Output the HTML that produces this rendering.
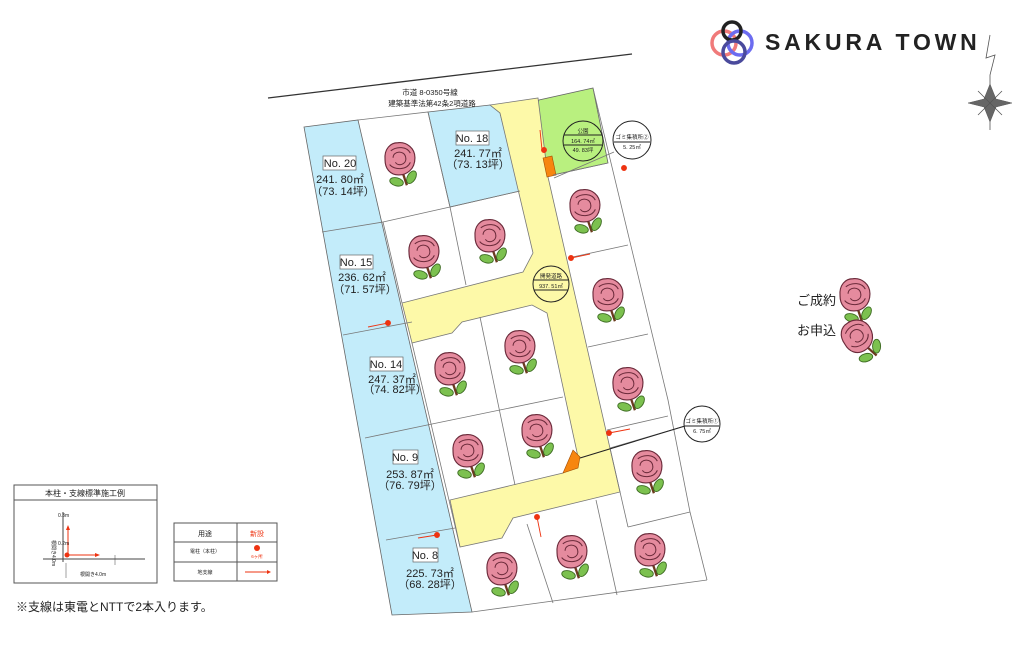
<!DOCTYPE html>
<html><head><meta charset="utf-8"><style>
html,body{margin:0;padding:0;background:#fff;}
svg{display:block;font-family:"Liberation Sans","Noto Sans CJK JP",sans-serif;}
</style></head><body>
<svg width="1024" height="650" viewBox="0 0 1024 650" xmlns="http://www.w3.org/2000/svg">
<defs>
<g id="r0">
 <path d="M2 10 L6 22" stroke="#6b3a1e" stroke-width="2" fill="none"/>
 <ellipse cx="-3" cy="19" rx="6" ry="3.5" fill="#7cc14f" stroke="#3d6b22" stroke-width="0.8" transform="rotate(15 -3 19)"/>
 <ellipse cx="10" cy="15" rx="3.5" ry="6" fill="#7cc14f" stroke="#3d6b22" stroke-width="0.8" transform="rotate(30 10 15)"/>
 <path d="M-13 0 C-14 -10 -8 -15 -2 -15 C6 -16 13 -10 13 -2 C13 8 6 13 -1 13 C-9 13 -13 7 -13 0Z" fill="#e58b9e" stroke="#6b2a3a" stroke-width="1"/>
 <path d="M-6 -2 C-6 -8 4 -9 5 -2 C6 4 -2 6 -4 2 M-9 4 C-5 9 6 9 9 2 M-8 -8 C-3 -12 6 -12 9 -6" stroke="#6b2a3a" stroke-width="0.9" fill="none"/>
</g>
<g id="rose"><use href="#r0" transform="scale(1.15)"/></g>
</defs>

<line x1="268" y1="98" x2="632" y2="54" stroke="#333" stroke-width="1.3"/>
<text x="430" y="95" font-size="7.5" text-anchor="middle" fill="#222">市道 8-0350号線</text>
<text x="432" y="106" font-size="7.5" text-anchor="middle" fill="#222">建築基準法第42条2項道路</text>

<polygon points="304,127 358,120 472,612 392,615" fill="#c3ecfa" stroke="#666" stroke-width="0.8"/>
<polygon points="428,112 490,105 500,113 520,191 450,207" fill="#c3ecfa" stroke="#666" stroke-width="0.8"/>

<polygon points="533,112 539,100 593,88 608,163 553,175 543,158" fill="#b9f07f" stroke="#666" stroke-width="0.8"/>

<polygon points="490,105 538,98 548,177 620,492 513,518 502,538 460,547 450,500 563,473 578,457 547,313 532,305 462,322 452,333 412,343 402,303 523,272 533,253 500,113" fill="#fdf9a8" stroke="#777" stroke-width="0.8"/>

<polygon points="543,158 552,156 556,175 547,177" fill="#f7860f" stroke="#a04b00" stroke-width="0.6"/>
<polygon points="563,473 573,450 580,457 578,468" fill="#f7860f" stroke="#a04b00" stroke-width="0.6"/>

<g stroke="#777" stroke-width="0.8" fill="none">
 <polyline points="358,120 428,112 450,207"/>
 <line x1="383" y1="222" x2="402" y2="303"/>
 <line x1="322" y1="232" x2="383" y2="222"/>
 <line x1="383" y1="222" x2="450" y2="207"/>
 <line x1="450" y1="207" x2="520" y2="191"/>
 <line x1="450" y1="207" x2="466" y2="285"/>
 <line x1="343" y1="335" x2="412" y2="322"/>
 <line x1="365" y1="438" x2="432" y2="424"/>
 <line x1="386" y1="540" x2="455" y2="528"/>
 <line x1="412" y1="343" x2="460" y2="547"/>
 <line x1="432" y1="424" x2="563" y2="397"/>
 <line x1="480" y1="317" x2="515" y2="485"/>
 <polyline points="593,88 668,400 690,512 707,580"/>
 <line x1="553" y1="175" x2="608" y2="163"/>
 <line x1="568" y1="258" x2="628" y2="245"/>
 <line x1="588" y1="347" x2="648" y2="334"/>
 <line x1="607" y1="430" x2="668" y2="416"/>
 <line x1="610" y1="448" x2="628" y2="527"/>
 <line x1="628" y1="527" x2="690" y2="512"/>
 <line x1="472" y1="612" x2="707" y2="580"/>
 <line x1="527" y1="524" x2="553" y2="603"/>
 <line x1="596" y1="500" x2="617" y2="595"/>
 <line x1="610" y1="448" x2="685" y2="426"/>
 <line x1="554" y1="178" x2="614" y2="152"/>
</g>

<use href="#rose" transform="translate(400,160)"/>
<use href="#rose" transform="translate(424,253)"/>
<use href="#rose" transform="translate(490,237)"/>
<use href="#rose" transform="translate(585,207)"/>
<use href="#rose" transform="translate(608,296)"/>
<use href="#rose" transform="translate(450,370)"/>
<use href="#rose" transform="translate(520,348)"/>
<use href="#rose" transform="translate(628,385)"/>
<use href="#rose" transform="translate(468,452)"/>
<use href="#rose" transform="translate(537,432)"/>
<use href="#rose" transform="translate(647,468)"/>
<use href="#rose" transform="translate(502,570)"/>
<use href="#rose" transform="translate(572,553)"/>
<use href="#rose" transform="translate(650,551)"/>
<use href="#rose" transform="translate(855,296)"/>
<use href="#rose" transform="translate(858,337) rotate(-30)"/>

<g font-size="11" fill="#222" text-anchor="middle">
 <rect x="323" y="156" width="33" height="14" fill="#fff" stroke="#666" stroke-width="0.7"/>
 <text x="340" y="167">No. 20</text>
 <text x="340" y="183">241. 80㎡</text>
 <text x="343" y="195">（73. 14坪）</text>
 <rect x="456" y="131" width="33" height="14" fill="#fff" stroke="#666" stroke-width="0.7"/>
 <text x="472" y="142">No. 18</text>
 <text x="478" y="157">241. 77㎡</text>
 <text x="478" y="168">（73. 13坪）</text>
 <rect x="340" y="255" width="33" height="14" fill="#fff" stroke="#666" stroke-width="0.7"/>
 <text x="356" y="266">No. 15</text>
 <text x="362" y="281">236. 62㎡</text>
 <text x="365" y="293">（71. 57坪）</text>
 <rect x="370" y="357" width="33" height="14" fill="#fff" stroke="#666" stroke-width="0.7"/>
 <text x="386" y="368">No. 14</text>
 <text x="392" y="383">247. 37㎡</text>
 <text x="395" y="393">（74. 82坪）</text>
 <rect x="393" y="450" width="25" height="14" fill="#fff" stroke="#666" stroke-width="0.7"/>
 <text x="405" y="461">No. 9</text>
 <text x="410" y="478">253. 87㎡</text>
 <text x="410" y="489">（76. 79坪）</text>
 <rect x="413" y="548" width="25" height="14" fill="#fff" stroke="#666" stroke-width="0.7"/>
 <text x="425" y="559">No. 8</text>
 <text x="430" y="577">225. 73㎡</text>
 <text x="430" y="588">（68. 28坪）</text>
</g>

<g fill="none" stroke="#222" stroke-width="1">
 <circle cx="583" cy="141" r="20"/>
 <line x1="564" y1="135" x2="602" y2="135"/><line x1="564" y1="145" x2="602" y2="145"/>
 <circle cx="632" cy="140" r="19" fill="#fff"/>
 <line x1="614" y1="142" x2="650" y2="142"/>
 <circle cx="551" cy="284" r="18"/>
 <line x1="534" y1="280" x2="568" y2="280"/><line x1="534" y1="290" x2="568" y2="290"/>
 <circle cx="702" cy="424" r="18" fill="#fff"/>
 <line x1="685" y1="426" x2="719" y2="426"/>
 <line x1="580" y1="458" x2="685" y2="426"/>
</g>
<g font-size="5.5" fill="#222" text-anchor="middle">
 <text x="583" y="133">公園</text><text x="583" y="143">164. 74㎡</text><text x="583" y="152">49. 83坪</text>
 <text x="632" y="139">ゴミ集積所②</text><text x="632" y="149">5. 25㎡</text>
 <text x="551" y="278">開発道路</text><text x="551" y="288">937. 51㎡</text>
 <text x="702" y="423">ゴミ集積所①</text><text x="702" y="433">6. 75㎡</text>
</g>

<g stroke="#e31" stroke-width="0.9" fill="#e31">
 <circle cx="544" cy="150" r="2.5"/><line x1="542" y1="150" x2="540" y2="130"/>
 <circle cx="624" cy="168" r="2.5"/>
 <circle cx="571" cy="258" r="2.5"/><line x1="571" y1="258" x2="590" y2="254"/>
 <circle cx="609" cy="433" r="2.5"/><line x1="609" y1="433" x2="630" y2="429"/>
 <circle cx="388" cy="323" r="2.5"/><line x1="388" y1="323" x2="368" y2="327"/>
 <circle cx="437" cy="535" r="2.5"/><line x1="437" y1="535" x2="418" y2="538"/>
 <circle cx="537" cy="517" r="2.5"/><line x1="537" y1="517" x2="541" y2="537"/>
</g>

<text x="797" y="305" font-size="13" fill="#222">ご成約</text>
<text x="797" y="335" font-size="13" fill="#222">お申込</text>

<g fill="none" stroke-width="3.5">
 <circle cx="724" cy="43" r="12" stroke="#f07a7a"/>
 <circle cx="740" cy="43" r="12" stroke="#6c6cf0"/>
 <circle cx="732" cy="31" r="9" stroke="#222"/>
 <circle cx="734" cy="52" r="11" stroke="#4a4a9c"/>
</g>
<text x="765" y="50" font-size="23" font-weight="bold" fill="#222" letter-spacing="3.8">SAKURA TOWN</text>

<g stroke="#555" fill="#666">
 <polyline points="990,35 986,58 995,55 990,75 990,130" fill="none" stroke-width="0.8"/>
 <polygon points="968,103 984,99 990,84 996,99 1012,103 996,107 990,122 984,107" stroke-width="0.5"/>
 <line x1="978" y1="91" x2="1002" y2="115" stroke-width="0.8"/>
 <line x1="1002" y1="91" x2="978" y2="115" stroke-width="0.8"/>
</g>

<rect x="14" y="485" width="143" height="98" fill="#fff" stroke="#555"/>
<line x1="14" y1="500" x2="157" y2="500" stroke="#555"/>
<text x="85" y="496" font-size="8" text-anchor="middle" fill="#222">本柱・支線標準施工例</text>
<line x1="43" y1="559" x2="145" y2="559" stroke="#444"/>
<line x1="63" y1="512" x2="63" y2="562" stroke="#444"/>
<line x1="68" y1="555" x2="68" y2="528" stroke="#e31" stroke-width="1"/>
<polygon points="66,530 70,530 68,525" fill="#e31"/>
<line x1="68" y1="555" x2="96" y2="555" stroke="#e31" stroke-width="1"/>
<polygon points="95,553 95,557 100,555" fill="#e31"/>
<circle cx="67" cy="555" r="2.5" fill="#e31"/>
<line x1="66" y1="563" x2="66" y2="578" stroke="#444" stroke-width="0.5"/>
<line x1="115" y1="555" x2="115" y2="565" stroke="#444" stroke-width="0.5"/>
<text x="80" y="576" font-size="5" fill="#222">根開き4.0m</text>
<text x="58" y="517" font-size="5" fill="#222">0.3m</text>
<text x="58" y="545" font-size="5" fill="#222">0.2m</text>
<text x="52" y="540" font-size="5" fill="#222" transform="rotate(90 52 540)">根間き4.0m</text>

<rect x="174" y="523" width="103" height="58" fill="#fff" stroke="#555"/>
<line x1="174" y1="542" x2="277" y2="542" stroke="#555"/>
<line x1="174" y1="562" x2="277" y2="562" stroke="#555"/>
<line x1="237" y1="523" x2="237" y2="581" stroke="#555"/>
<text x="205" y="536" font-size="7" text-anchor="middle" fill="#222">用途</text>
<text x="257" y="536" font-size="7" text-anchor="middle" fill="#e31">新設</text>
<text x="205" y="553" font-size="5" text-anchor="middle" fill="#222">電柱（本柱）</text>
<circle cx="257" cy="548" r="3" fill="#e31"/>
<text x="257" y="558" font-size="4.5" text-anchor="middle" fill="#e31">6ヶ所</text>
<text x="205" y="574" font-size="5" text-anchor="middle" fill="#222">地支線</text>
<line x1="245" y1="572" x2="268" y2="572" stroke="#e31"/>
<polygon points="267,570 267,574 271,572" fill="#e31"/>

<text x="16" y="611" font-size="12" fill="#222">※支線は東電とNTTで2本入ります。</text>
</svg>
</body></html>
